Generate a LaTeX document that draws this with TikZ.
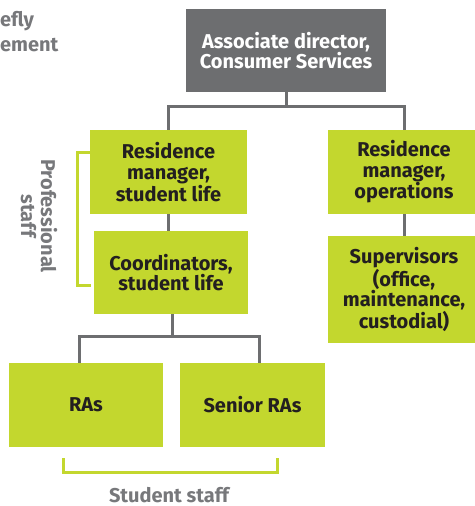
\documentclass[tikz,border=0pt]{standalone}
\usepackage{fontspec}
\setmainfont{Fira Sans}
\definecolor{boxgreen}{RGB}{195,215,46}
\definecolor{boxgray}{RGB}{109,110,112}
\definecolor{inkdark}{RGB}{35,31,32}
\definecolor{labelgray}{RGB}{119,120,123}
\tikzset{
  unitbox/.style={anchor=center, align=center, inner sep=0pt,
    font=\fontsize{20}{20.5}\selectfont\bfseries},
  greenbox/.style={unitbox, fill=boxgreen, text=inkdark},
  graybox/.style={unitbox, fill=boxgray, text=white},
  conn/.style={draw=boxgray, line width=3pt},
  bracket/.style={draw=boxgreen, line width=3pt},
  staffLabel/.style={text=labelgray, align=center, inner sep=0pt,
    font=\fontsize{20}{20}\selectfont\bfseries}
}
\begin{document}
\begin{tikzpicture}[x=1pt,y=-1pt]
    \useasboundingbox (0,0) rectangle (474,506);

    % clipped heading (top left)
    \node[staffLabel, anchor=base west] (headA) at (0,27) {efly};
    \node[staffLabel, anchor=base west] (headB) at (0,51) {ement};

    % management
    \node[graybox, minimum width=200pt, minimum height=83pt] (director) at (286,50.5) {Associate director,\\Consumer Services};

    % left column
    \node[greenbox, minimum width=157pt, minimum height=84pt] (resLife) at (168.5,172) {Residence\\manager,\\student life};
    \node[greenbox, minimum width=154pt, minimum height=83pt] (coord) at (171,272.5) {Coordinators,\\student life};

    % right column
    \node[greenbox, minimum width=152pt, minimum height=84pt] (resOps) at (404,172) {Residence\\manager,\\operations};
    \node[greenbox, minimum width=152pt, minimum height=107pt] (sup) at (404,289.5) {Supervisors\\(office,\\maintenance,\\custodial)};

    % student staff
    \node[greenbox, minimum width=154pt, minimum height=84pt] (ras) at (86,405) {RAs};
    \node[greenbox, minimum width=145pt, minimum height=84pt] (senior) at (252.5,405) {Senior RAs};

    % connectors
    \draw[conn] (director.south) -- ++(0,15);
    \draw[conn] (resLife.north) -- ++(0,-23) -| (resOps.north);
    \draw[conn] (resLife.south) -- (resLife.south |- coord.north);
    \draw[conn] (resOps.south) -- (sup.north);
    \draw[conn] ([xshift=1pt]coord.south) -- ++(0,22) coordinate (busLow);
    \draw[conn] ([xshift=-7pt]ras.north) |- (busLow) -| ([xshift=6.5pt]senior.north);

    % brackets and their labels
    \draw[bracket] (91,152) -| (77,285) -- (91,285);
    \node[staffLabel, rotate=-90] (proLabel) at (39,216) {Professional\\staff};
    \draw[bracket] (63,458) |- (277,472) -- (277,458);
    \node[staffLabel, anchor=base] (stuLabel) at (169,502) {Student staff};
\end{tikzpicture}
\end{document}
